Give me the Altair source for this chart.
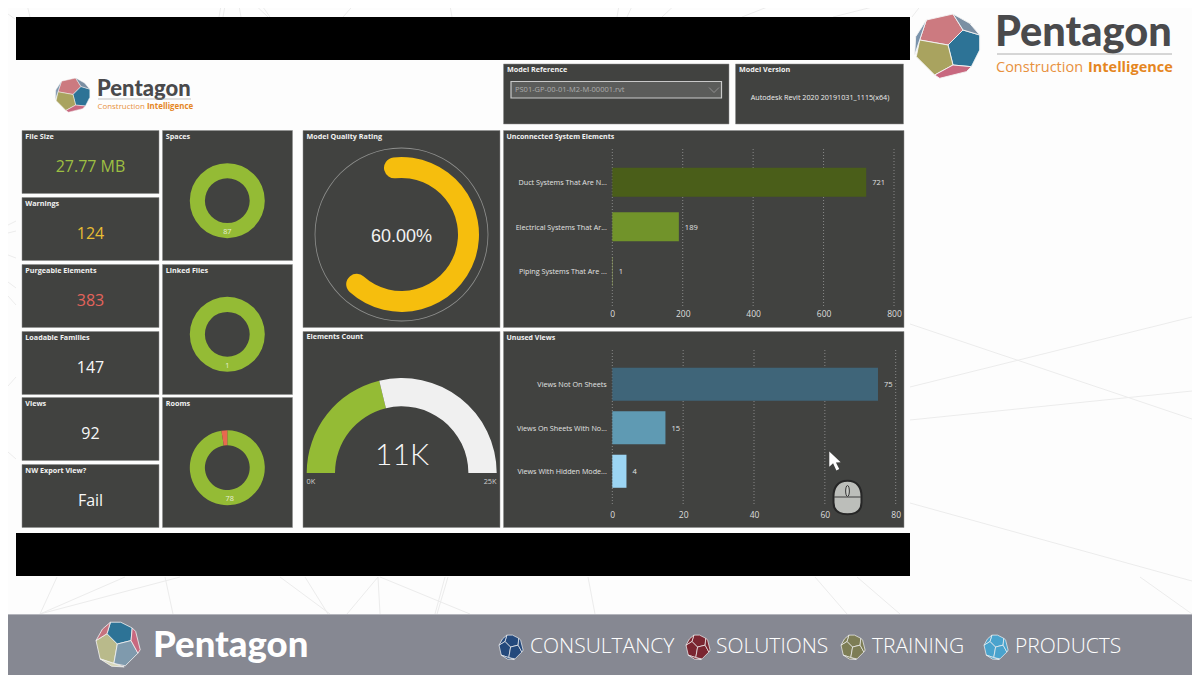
import math
import altair as alt

# ---------- values ----------
kpi_titles = ["File Size", "Warnings", "Purgeable Elements", "Loadable Families", "Views", "NW Export View?"]
kpi_values = ["27.77 MB", "124", "383", "147", "92", "Fail"]
kpi_colors = ["#9dbf42", "#e8bd33", "#e4645c", "#f7f7f7", "#f7f7f7", "#f7f7f7"]

donut_titles = ["Spaces", "Linked Files", "Rooms"]
donut_good = [87, 1, 78]
donut_bad = [0, 0, 2]

quality_pct = 60
elements_count = 10600
elements_max = 25000

system_cats = ["Duct Systems That Are N...", "Electrical Systems That Ar...", "Piping Systems That Are ..."]
system_vals = [721, 189, 1]
system_cols = ["#4a5e19", "#71932a", "#a6bd5f"]
system_ticks = [0, 200, 400, 600, 800]

views_cats = ["Views Not On Sheets", "Views On Sheets With No...", "Views With Hidden Mode..."]
views_vals = [75, 15, 4]
views_cols = ["#3f6579", "#5f9ab3", "#9cd5f3"]
views_ticks = [0, 20, 40, 60, 80]

services = ["CONSULTANCY", "SOLUTIONS", "TRAINING", "PRODUCTS"]
service_cols = ["#24497c", "#7a2530", "#7d7d55", "#4aa3cd"]

# ---------- layout ----------
W, H = 1184, 667
PANEL = "#414240"
FONT = "Open Sans"
BRAND = "Lato"
one = alt.Data(values=[{"a": 1}])
layers = []

def px(v):
    return alt.value(v - 8)

def rect(x0, y0, x1, y1, fill, stroke=None, sw=0.0):
    kw = {"stroke": stroke, "strokeWidth": sw} if stroke else {}
    layers.append(alt.Chart(one).mark_rect(color=fill, **kw).encode(
        x=px(x0), x2=px(x1), y=px(y0), y2=px(y1)))

def line(x0, y0, x1, y1, color="#ececec", sw=1.0):
    layers.append(alt.Chart(one).mark_rule(color=color, strokeWidth=sw).encode(
        x=px(x0), x2=px(x1), y=px(y0), y2=px(y1)))

def text(s, x, y, size=8, color="#f2f2f2", weight="normal", align="left", font=FONT):
    layers.append(alt.Chart(one).mark_text(
        text=s, align=align, baseline="middle", font=font, fontSize=size,
        fontWeight=weight, color=color).encode(x=px(x), y=px(y)))

def shape(path, x, y, size, fill=None, stroke=None, sw=0.0, angle=0):
    kw = {}
    if fill:
        kw.update(fill=fill, fillOpacity=1)
    else:
        kw.update(fill="transparent")
    if stroke:
        kw.update(stroke=stroke, strokeWidth=sw, strokeOpacity=1)
    else:
        kw.update(strokeWidth=0)
    layers.append(alt.Chart(one).mark_point(shape=path, size=size, angle=angle, **kw).encode(
        x=px(x), y=px(y)))

def pth(points):
    return "M" + "L".join(f"{(a - 145) / 96:.3f},{(b - 138) / 96:.3f}" for a, b in points) + "Z"

FACES = [
    [(80, 60), (160, 42), (190, 90), (145, 135), (60, 120)],
    [(145, 135), (190, 90), (240, 105), (240, 150), (215, 200), (160, 195)],
    [(60, 120), (145, 135), (160, 195), (105, 225), (50, 170)],
    [(105, 225), (160, 195), (215, 200), (200, 215), (120, 235)],
    [(80, 60), (60, 120), (45, 165), (48, 110)],
    [(160, 42), (190, 90), (240, 105), (210, 70)],
]

def logo(cx, cy, r, cols, sw=0.8, angle=0):
    for face, col in zip(FACES, cols):
        shape(pth(face), cx, cy, (2 * r) ** 2, fill=col, stroke="#f4f4f4", sw=sw, angle=angle)

MAIN = ["#cc7a80", "#2d7396", "#a9a35f", "#c8687f", "#7a93ab", "#7b8fa3"]
FOOT = ["#b9ba8b", "#2d7396", "#7f9aad", "#c8687f", "#d6d6b8", "#c6727e"]

# ---------- background ----------
BG_LINES = [
    (910, 324, 1192, 419), (910, 387, 1192, 317), (910, 420, 1192, 391), (910, 503, 1192, 581),
    (925, 0, 912, 17), (8, 14, 15, 19), (8, 225, 16, 221), (8, 233, 16, 231), (8, 255, 16, 258),
    (8, 282, 16, 288), (8, 296, 16, 305), (16, 377, 8, 386), (8, 452, 16, 459),
    (26, 0, 30, 17), (222, 0, 219, 17), (226, 0, 223, 17), (238, 0, 241, 17), (250, 0, 268, 17),
    (258, 0, 270, 17), (358, 0, 343, 17), (449, 0, 452, 17), (620, 0, 617, 17), (635, 0, 627, 17),
    (680, 0, 662, 17), (785, 0, 742, 17), (900, 0, 833, 17),
    (40, 614, 57, 577), (40, 614, 125, 577), (40, 614, 180, 577), (173, 614, 165, 577),
    (330, 614, 280, 577), (328, 614, 305, 577), (347, 614, 378, 577), (380, 614, 378, 577),
    (470, 614, 380, 577), (435, 614, 445, 577), (437, 614, 448, 577), (595, 614, 588, 577),
    (847, 614, 815, 577), (900, 614, 857, 577), (1192, 614, 1140, 577),
]
for seg in BG_LINES:
    line(*seg)

rect(16, 17, 910, 60, "#000000")
rect(16, 533, 910, 576, "#000000")
rect(8, 614, 1192, 675, "#868892")
line(8, 614.5, 1192, 614.5, "#b4b5bc", 1)

# ---------- panels ----------
kpi_y = [(130.5, 193.5), (197.5, 260.5), (264.5, 327.5), (331.5, 394.5), (397.5, 460.5), (464.5, 527.5)]
kpi_vy = [167, 234, 301, 367.5, 434, 501]
for t, v, c, (a, b), vy in zip(kpi_titles, kpi_values, kpi_colors, kpi_y, kpi_vy):
    rect(22, a, 159, b, PANEL, "#8c8c8c", 0.5)
    text(t, 25.3, a + 6, 7.2, "#f2f2f2", "bold")
    text(v, 90.5, vy, 16, c, "normal", "center")

don_y = [(130.5, 260.5), (264.5, 394.5), (397.5, 527.5)]
don_cy = [200.7, 334.3, 467.7]
don_lbl = [(227.3, 232), (227.3, 366), (229.7, 499)]
for t, g, r, (a, b), cy, (lx, ly) in zip(donut_titles, donut_good, donut_bad, don_y, don_cy, don_lbl):
    rect(162.5, a, 292.5, b, PANEL, "#8c8c8c", 0.5)
    text(t, 165.8, a + 6, 7.2, "#f2f2f2", "bold")
    rows = [{"k": "ok", "v": g, "i": 0}, {"k": "bad", "v": r, "i": 1}]
    layers.append(alt.Chart(alt.Data(values=rows)).mark_arc(innerRadius=22.4, outerRadius=37.5).encode(
        theta=alt.Theta("v:Q", stack=True, scale=alt.Scale(domain=[0, g + r], range=[0, 2 * math.pi])),
        color=alt.Color("k:N", scale=alt.Scale(domain=["ok", "bad"], range=["#94bb35", "#e8694f"]), legend=None),
        order=alt.Order("i:Q"),
        x=px(227.3), y=px(cy)))
    text(str(g), lx, ly, 7.3, "#e8eed8", "normal", "center")

# Model quality
rect(303, 130.5, 500, 327.5, PANEL, "#8c8c8c", 0.5)
text("Model Quality Rating", 306.5, 136.5, 7.2, "#f2f2f2", "bold")
layers.append(alt.Chart(alt.Data(values=[{"s": 0, "e": 100}])).mark_arc(
    innerRadius=86.1, outerRadius=86.9, color="#8f908e").encode(
    theta=alt.Theta("s:Q", scale=alt.Scale(domain=[0, 100], range=[0, 2 * math.pi])),
    theta2="e:Q", x=px(401.5), y=px(234.5)))
CAP = math.radians(15)
sweep = 2 * math.pi * quality_pct / 100 + 2 * CAP
layers.append(alt.Chart(alt.Data(values=[{"s": 0, "e": quality_pct}])).mark_arc(
    innerRadius=56.5, outerRadius=77.5, cornerRadius=10.5, color="#f6be0d").encode(
    theta=alt.Theta("s:Q", scale=alt.Scale(domain=[0, 100], range=[-CAP, -CAP + sweep * 100 / quality_pct])),
    theta2="e:Q", x=px(401.5), y=px(234.5)))
text(f"{quality_pct:.2f}%", 401.5, 237, 18, "#f2f2f2", "normal", "center", "Liberation Sans")

# Elements gauge
rect(303, 331.5, 500, 527.5, PANEL, "#8c8c8c", 0.5)
text("Elements Count", 306.5, 337, 7.2, "#f2f2f2", "bold")
gauge = [{"k": "done", "v": elements_count, "i": 0}, {"k": "rest", "v": elements_max - elements_count, "i": 1}]
layers.append(alt.Chart(alt.Data(values=gauge)).mark_arc(innerRadius=66.7, outerRadius=95).encode(
    theta=alt.Theta("v:Q", stack=True, scale=alt.Scale(domain=[0, elements_max], range=[-math.pi / 2, math.pi / 2])),
    color=alt.Color("k:N", scale=alt.Scale(domain=["done", "rest"], range=["#94bb35", "#f0f0f0"]), legend=None),
    order=alt.Order("i:Q"), x=px(401.7), y=px(473)))
text("11K", 402, 456, 30, "#f7f7f7", 300, "center", "Lato")
text("0K", 306.5, 482, 7.3, "#cfcfcf")
text("25K", 496.5, 482, 7.3, "#cfcfcf", "normal", "right")

# Slicer + version
rect(503.5, 64, 729, 124, PANEL, "#8c8c8c", 0.5)
text("Model Reference", 507, 70, 7.2, "#f2f2f2", "bold")
rect(511, 81.5, 721.5, 98, "#5b5c5a", "#c9c9c9", 1.2)
text("PS01-GP-00-01-M2-M-00001.rvt", 515, 90, 7.5, "#acacac")
shape("M-1,-0.5L0,0.5L1,-0.5", 714, 90, 100, stroke="#b8b8b8", sw=0.8)
rect(735.5, 64, 903.5, 124, PANEL, "#8c8c8c", 0.5)
text("Model Version", 739, 70, 7.2, "#f2f2f2", "bold")
text("Autodesk Revit 2020 20191031_1115(x64)", 820, 97.7, 7.2, "#eeeeee", "normal", "center")

# ---------- bar panels ----------
def bars(title, x0, y0, x1, y1, cats, vals, cols, ticks, xa, xb, ya, yb, pad, lab_y, gt, gb):
    rect(x0, y0, x1, y1, PANEL, "#8c8c8c", 0.5)
    text(title, x0 + 3, y0 + 6, 7.0, "#f2f2f2", "bold")
    dom = [ticks[0], ticks[-1]]
    xs = alt.Scale(domain=dom, range=[xa - 8, xb - 8], nice=False)
    ys = alt.Scale(domain=cats, range=[ya - 8, yb - 8], paddingInner=pad, paddingOuter=pad / 2)
    layers.append(alt.Chart(alt.Data(values=[{"t": t} for t in ticks])).mark_rule(
        color="#9a9a9a", strokeWidth=0.8, strokeDash=[1, 2]).encode(
        x=alt.X("t:Q", scale=xs, axis=None), y=px(gt), y2=px(gb)))
    rows = [{"c": c, "v": v} for c, v in zip(cats, vals)]
    base = alt.Chart(alt.Data(values=rows))
    layers.append(base.mark_bar().encode(
        x=alt.X("v:Q", scale=xs, axis=alt.Axis(
            orient="bottom", values=ticks, grid=False, domain=False, ticks=False, title=None,
            labelColor="#dedede", labelFont=FONT, labelFontSize=8.5, labelFlush=False,
            labelOverlap=False, labelPadding=0, labelBaseline="middle", format="d", zindex=1,
            offset=(lab_y - 8) - H)),
        y=alt.Y("c:N", sort=None, scale=ys, axis=alt.Axis(
            orient="left", grid=False, domain=False, ticks=False, title=None,
            labelColor="#e2e2e2", labelFont=FONT, labelFontSize=7.2, labelLimit=200, zindex=1,
            labelOffset=1, labelPadding=6, offset=-(xa - 8))),
        color=alt.Color("c:N", sort=None, scale=alt.Scale(domain=cats, range=cols), legend=None)))
    layers.append(base.mark_text(align="left", baseline="middle", dx=6, dy=1, font=FONT, fontSize=7.5,
                                 color="#e2e2e2").encode(
        x=alt.X("v:Q", scale=xs, axis=None),
        y=alt.Y("c:N", sort=None, scale=ys, axis=None),
        text="v:Q"))

bars("Unconnected System Elements", 503.5, 130.5, 904, 327.5, system_cats, system_vals, system_cols,
     system_ticks, 612.3, 894, 159.9, 293.7, 0.35, 313.7, 149, 306)
bars("Unused Views", 503.5, 331.5, 904, 527.5, views_cats, views_vals, views_cols,
     views_ticks, 612.3, 895.7, 362.5, 493, 0.24, 514, 350, 505)

# Cursor and mouse badge
shape("M-0.55,-1L-0.55,0.6L-0.15,0.25L0.2,1L0.5,0.85L0.15,0.15L0.65,0.12Z", 834.5, 461, 360, fill="#ffffff")
MOUSE = "M0,-1.2C0.7,-1.2 1,-0.7 1,-0.1L1,0.35C1,0.95 0.6,1.2 0,1.2C-0.6,1.2 -1,0.95 -1,0.35L-1,-0.1C-1,-0.7 -0.7,-1.2 0,-1.2Z"
shape(MOUSE, 847.5, 497.5, 784, fill="#bcbeba", stroke="#262626", sw=2)
line(834, 497, 861, 497, "#3a3a3a", 1)
shape("M0,-1C0.45,-1 0.45,1 0,1C-0.45,1 -0.45,-1 0,-1Z", 847.5, 491, 120, fill="#c9cbc7", stroke="#333333", sw=1)

# ---------- logos ----------
logo(948, 46, 32, MAIN, 0.9)
text("Pentagon", 995, 33.5, 41.5, "#4a4a4c", 900, "left", BRAND)
line(997, 54, 1172, 54, "#9b9b9b", 0.8)
text("Construction", 996, 68, 14.5, "#e8913d")
text("Intelligence", 1088, 68, 14.5, "#e5861f", "bold")

logo(73, 95, 17, MAIN, 0.5)
text("Pentagon", 97, 88.5, 22, "#4a4a4c", 900, "left", BRAND)
line(98, 99, 191, 99, "#9b9b9b", 0.6)
text("Construction", 97.5, 106.5, 7.9, "#e8913d")
text("Intelligence", 147, 106.5, 7.9, "#e5861f", "bold")

logo(118, 644, 22, FOOT, 0.8, 270)
text("Pentagon", 153, 646, 36.5, "#ffffff", 900, "left", BRAND)

svc_icon_x = [511, 698, 853, 996]
svc_text_x = [530, 716, 872, 1015]
for s, c, ix, tx in zip(services, service_cols, svc_icon_x, svc_text_x):
    logo(ix, 647, 12, [c] * 6, 0.7, 270)
    text(s, tx, 647, 21, "#ffffff", 300)

chart = alt.layer(*layers).resolve_scale(
    x="independent", y="independent", theta="independent", color="independent"
).properties(
    width=W, height=H, padding=0, background="#fdfdfd",
    autosize=alt.AutoSizeParams(type="none"),
).configure_view(stroke=None)

chart.save("out.html", embed_options={"renderer": "svg", "actions": False})
